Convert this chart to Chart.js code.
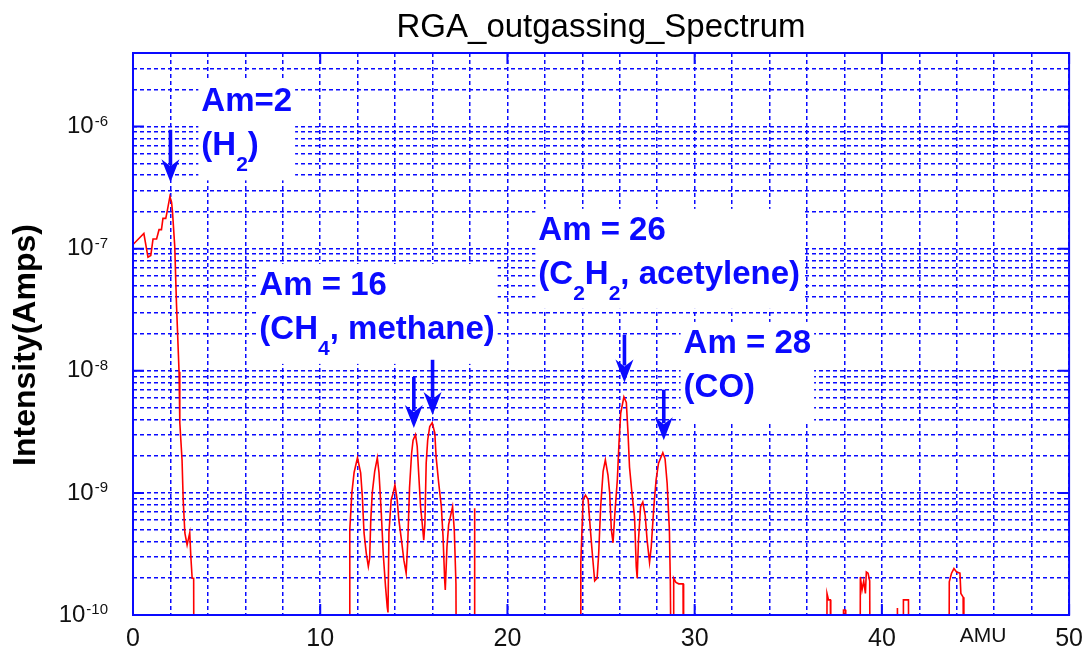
<!DOCTYPE html>
<html>
<head>
<meta charset="utf-8">
<script src="https://cdn.jsdelivr.net/npm/chart.js@4/dist/chart.umd.min.js"></script>
<style>
  html, body { margin: 0; padding: 0; background: #ffffff; }
  #wrap { width: 1092px; height: 654px; position: relative; }
</style>
</head>
<body>
<div id="wrap"><canvas id="rga" width="1092" height="654"></canvas></div>
<script>
// Readings below the bottom of the axis (under 1e-10 A) are stored at this floor.
const FLOOR = 1e-11;

// Mass region 0-3.3 AMU (hydrogen)
const amuH2  = [0.00, 0.58, 0.80, 0.95, 1.07, 1.26, 1.39, 1.52, 1.60, 1.75, 1.82, 1.97, 2.06, 2.11, 2.23, 2.32, 2.46, 2.50, 2.62, 2.68, 2.77, 2.89, 3.03, 3.09, 3.16, 3.24, 3.26];
const ampsH2 = [1.08e-7, 1.33e-7, 8.5e-8, 8.8e-8, 1.2e-7, 1.2e-7, 1.43e-7, 1.43e-7, 1.77e-7, 1.77e-7, 2.0e-7, 2.67e-7, 2.4e-7, 2.0e-7, 1.04e-7, 3.6e-8, 9.8e-9, 3.75e-9, 1.86e-9, 8.8e-10, 4.7e-10, 3.75e-10, 4.7e-10, 3.0e-10, 2.0e-10, 2.0e-10, FLOOR];

// Mass region 11.5-18.3 AMU (CHx group)
const amuCH  = [11.55, 11.58, 11.69, 11.81, 11.99, 12.16, 12.25, 12.34, 12.46, 12.57, 12.64, 12.70, 12.78, 12.91, 13.05, 13.14, 13.26, 13.37, 13.49, 13.58, 13.62, 13.67, 13.79, 13.90, 13.99, 14.11, 14.20, 14.34, 14.47, 14.59, 14.68, 14.77, 14.88, 14.96, 15.09, 15.18, 15.27, 15.36, 15.44, 15.53, 15.59, 15.66, 15.74, 15.85, 15.98, 16.12, 16.19, 16.33, 16.47, 16.56, 16.65, 16.68, 16.77, 16.86, 17.00, 17.07, 17.16, 17.25, 17.28, 18.22, 18.24, 18.26];
const ampsCH = [FLOOR, 5.0e-10, 1.0e-9, 1.47e-9, 1.94e-9, 1.46e-9, 9.3e-10, 4.7e-10, 3.2e-10, 2.5e-10, 2.9e-10, 6.0e-10, 1.0e-9, 1.5e-9, 1.94e-9, 1.46e-9, 6.9e-10, 3.1e-10, 1.7e-10, 1.16e-10, 1.05e-10, 4.7e-10, 8.8e-10, 1.0e-9, 1.16e-9, 8.8e-10, 6.0e-10, 4.1e-10, 2.8e-10, 2.2e-10, 4.1e-10, 1.1e-9, 2.1e-9, 2.7e-9, 3.0e-9, 2.4e-9, 1.35e-9, 7.7e-10, 5.8e-10, 4.1e-10, 5.5e-10, 1.75e-9, 2.7e-9, 3.5e-9, 3.75e-9, 3.1e-9, 1.97e-9, 1.2e-9, 7.7e-10, 4.4e-10, 1.9e-10, 1.6e-10, 3.6e-10, 5.5e-10, 6.9e-10, 7.7e-10, 5.0e-10, 1.8e-10, FLOOR, FLOOR, 7.5e-10, FLOOR];

// Mass region 23.9-29.4 AMU (C2Hx, CO)
const amuC2  = [23.90, 23.92, 24.04, 24.17, 24.31, 24.43, 24.54, 24.66, 24.79, 24.87, 24.98, 25.11, 25.23, 25.37, 25.46, 25.55, 25.64, 25.73, 25.87, 25.96, 26.05, 26.22, 26.35, 26.44, 26.52, 26.65, 26.79, 26.88, 26.93, 27.00, 27.11, 27.23, 27.36, 27.46, 27.59, 27.68, 27.82, 27.94, 28.07, 28.30, 28.42, 28.53, 28.65, 28.70, 28.77, 28.85, 28.88, 29.00, 29.15, 29.38, 29.41];
const ampsC2 = [FLOOR, 2.7e-10, 8.8e-10, 9.6e-10, 8.8e-10, 5.0e-10, 3.1e-10, 1.9e-10, 2.0e-10, 3.1e-10, 7.7e-10, 1.5e-9, 1.86e-9, 1.4e-9, 1.0e-9, 5.0e-10, 3.9e-10, 6.5e-10, 1.28e-9, 2.6e-9, 4.5e-9, 6.1e-9, 5.5e-9, 3.1e-9, 1.63e-9, 1.0e-9, 6.3e-10, 2.5e-10, 2.0e-10, 4.1e-10, 7.7e-10, 8.4e-10, 6.5e-10, 4.1e-10, 2.7e-10, 3.6e-10, 7.7e-10, 1.28e-9, 1.75e-9, 2.13e-9, 1.9e-9, 1.2e-9, 5.0e-10, 1.9e-10, FLOOR, FLOOR, 2.0e-10, 1.85e-10, 1.8e-10, 1.8e-10, FLOOR];

// Mass region 37-44.4 AMU
const amuHeavy  = [37.05, 37.07, 37.15, 37.25, 37.27, 37.93, 37.95, 38.05, 38.07, 38.83, 38.85, 38.94, 39.03, 39.12, 39.17, 39.26, 39.35, 39.38, 40.81, 40.83, 40.87, 41.13, 41.15, 41.42, 41.45, 43.58, 43.60, 43.72, 43.85, 43.99, 44.17, 44.22, 44.34, 44.38];
const ampsHeavy = [FLOOR, 1.5e-10, 1.33e-10, 1.33e-10, FLOOR, FLOOR, 1.1e-10, 1.1e-10, FLOOR, FLOOR, 2.05e-10, 1.6e-10, 1.9e-10, 1.5e-10, 2.25e-10, 2.2e-10, 1.9e-10, FLOOR, FLOOR, 1.14e-10, FLOOR, FLOOR, 1.33e-10, 1.33e-10, FLOOR, FLOOR, 1.87e-10, 2.2e-10, 2.4e-10, 2.25e-10, 2.2e-10, 1.5e-10, 1.4e-10, FLOOR];

// Axis ticks
const xMajorTicks = [0, 10, 20, 30, 40, 50];
const yDecades = [-10, -9, -8, -7, -6];
const yMax = 4e-6;

// Peak labels ("_x" marks a subscript character), anchored at the text's left edge / first baseline
const noteText  = [['Am=2', '(H_2)'], ['Am = 16', '(CH_4, methane)'], ['Am = 26', '(C_2H_2, acetylene)'], ['Am = 28', '(CO)']];
const noteAmu   = [3.65, 6.75, 21.65, 29.41];
const noteAmps  = [1.33e-6, 4.18e-8, 1.18e-7, 1.40e-8];

// Peak arrows: mass, shaft top, arrow tip
const arrowAmu  = [2.0, 15.0, 16.0, 26.25, 28.35];
const arrowTop  = [9.4e-7, 8.9e-9, 1.23e-8, 1.97e-8, 7.0e-9];
const arrowTip  = [3.5e-7, 3.4e-9, 4.35e-9, 8.0e-9, 2.7e-9];

// ---------------------------------------------------------------------------
const BLUE = '#0a0aff';
const FONT = "'Liberation Sans', Arial, Helvetica, sans-serif";

const points = [];
[[amuH2, ampsH2], [amuCH, ampsCH], [amuC2, ampsC2], [amuHeavy, ampsHeavy]].forEach(([xs, ys]) => {
  xs.forEach((x, i) => points.push({ x: x, y: ys[i] }));
});

const yTickValues = [];
yDecades.forEach(e => {
  for (let m = 1; m <= 9; m++) {
    const v = m * Math.pow(10, e);
    if (v <= yMax * 1.0001) yTickValues.push(v);
  }
});

function decadeExponent(v) {
  const e = Math.log10(v);
  return Math.abs(e - Math.round(e)) < 1e-6 ? Math.round(e) : null;
}

function splitRuns(str) {
  const out = [];
  let buf = '';
  for (let i = 0; i < str.length; i++) {
    if (str[i] === '_' && i + 1 < str.length) {
      if (buf) { out.push([buf, false]); buf = ''; }
      out.push([str[i + 1], true]);
      i++;
    } else buf += str[i];
  }
  if (buf) out.push([buf, false]);
  return out;
}

// Peak labels on white boxes, plus the arrows pointing at the peaks
const peakNotes = {
  id: 'peakNotes',
  afterDatasetsDraw(chart) {
    const ctx = chart.ctx, xs = chart.scales.x, ys = chart.scales.y;
    const mainFont = 'bold 33px ' + FONT, subFont = 'bold 21px ' + FONT;
    const lineGap = 44, subDrop = 16;
    ctx.save();
    noteText.forEach((lines, k) => {
      const x0 = xs.getPixelForValue(noteAmu[k]);
      const b0 = ys.getPixelForValue(noteAmps[k]);
      const runs = lines.map(splitRuns);
      const widths = runs.map(rs => rs.reduce((w, [t, sub]) => { ctx.font = sub ? subFont : mainFont; return w + ctx.measureText(t).width; }, 0));
      const maxW = Math.max.apply(null, widths);
      const bLast = b0 + lineGap * (lines.length - 1);
      ctx.fillStyle = '#ffffff';
      ctx.fillRect(x0 - 3, b0 - 31, maxW + 6, bLast + 25 - (b0 - 31));
      ctx.fillStyle = BLUE;
      ctx.textBaseline = 'alphabetic';
      ctx.textAlign = 'left';
      runs.forEach((rs, li) => {
        let cx = x0;
        const base = b0 + li * lineGap;
        rs.forEach(([t, sub]) => {
          ctx.font = sub ? subFont : mainFont;
          ctx.fillText(t, cx, base + (sub ? subDrop : 0));
          cx += ctx.measureText(t).width;
        });
      });
    });
    // arrows
    ctx.strokeStyle = BLUE;
    ctx.fillStyle = BLUE;
    arrowAmu.forEach((a, k) => {
      const x = xs.getPixelForValue(a);
      const yTop = ys.getPixelForValue(arrowTop[k]);
      const yTip = ys.getPixelForValue(arrowTip[k]);
      const headLen = 23, headHalf = 9;
      ctx.lineWidth = 3.6;
      ctx.beginPath();
      ctx.moveTo(x, yTop);
      ctx.lineTo(x, yTip - headLen + 6);
      ctx.stroke();
      ctx.beginPath();
      ctx.moveTo(x, yTip);
      ctx.lineTo(x - headHalf, yTip - headLen);
      ctx.lineTo(x, yTip - headLen + 7);
      ctx.lineTo(x + headHalf, yTip - headLen);
      ctx.closePath();
      ctx.fill();
    });
    ctx.restore();
  }
};

// Solid axes box with inward major ticks, decade labels with raised exponents,
// the y-axis title and the AMU unit text
const axesBox = {
  id: 'axesBox',
  afterDraw(chart) {
    const ctx = chart.ctx, a = chart.chartArea, xs = chart.scales.x, ys = chart.scales.y;
    const tick = 11;
    ctx.save();
    ctx.strokeStyle = BLUE;
    ctx.lineWidth = 2;
    ctx.strokeRect(a.left, a.top, a.right - a.left, a.bottom - a.top);
    ctx.beginPath();
    xMajorTicks.forEach(v => {
      const x = xs.getPixelForValue(v);
      ctx.moveTo(x, a.bottom); ctx.lineTo(x, a.bottom - tick);
      ctx.moveTo(x, a.top);    ctx.lineTo(x, a.top + tick);
    });
    yDecades.forEach(e => {
      const y = ys.getPixelForValue(Math.pow(10, e));
      ctx.moveTo(a.left, y);  ctx.lineTo(a.left + tick, y);
      ctx.moveTo(a.right, y); ctx.lineTo(a.right - tick, y);
    });
    ctx.stroke();

    // decade tick labels: "10" with a raised exponent, right edge 25px left of the axis
    ctx.fillStyle = '#111111';
    ys.ticks.forEach(t => {
      const e = decadeExponent(t.value);
      if (e === null) return;
      const y = ys.getPixelForValue(t.value);
      const right = a.left - 25;
      ctx.font = '15px ' + FONT;
      const expStr = String(e);
      const expW = ctx.measureText(expStr).width;
      ctx.textAlign = 'left';
      ctx.textBaseline = 'alphabetic';
      ctx.fillText(expStr, right - expW, y - 1);
      ctx.font = '24px ' + FONT;
      ctx.textAlign = 'right';
      ctx.textBaseline = 'middle';
      ctx.fillText('10', right - expW - 1, y);
    });

    // y-axis title
    ctx.save();
    ctx.translate(26, 345);
    ctx.rotate(-Math.PI / 2);
    ctx.fillStyle = '#000000';
    ctx.font = 'bold 32px ' + FONT;
    ctx.textAlign = 'center';
    ctx.textBaseline = 'middle';
    ctx.fillText('Intensity(Amps)', 0, 0);
    ctx.restore();

    ctx.fillStyle = '#111111';
    ctx.font = '21px ' + FONT;
    ctx.textAlign = 'center';
    ctx.textBaseline = 'middle';
    ctx.fillText('AMU', xs.getPixelForValue(45.4), a.bottom + 21);
    ctx.restore();
  }
};

new Chart(document.getElementById('rga'), {
  type: 'line',
  data: {
    datasets: [{
      data: points,
      borderColor: '#ff0000',
      borderWidth: 1.6,
      pointRadius: 0,
      tension: 0,
      fill: false
    }]
  },
  options: {
    responsive: false,
    animation: false,
    events: [],
    layout: { padding: { left: 0, right: 19, top: 0, bottom: 0 } },
    plugins: {
      legend: { display: false },
      tooltip: { enabled: false },
      title: {
        display: true,
        text: 'RGA_outgassing_Spectrum',
        fullSize: false,
        color: '#000000',
        font: { family: FONT, size: 33, weight: 'normal' },
        padding: { top: 8, bottom: 5.4 }
      }
    },
    scales: {
      x: {
        type: 'linear',
        min: 0,
        max: 50,
        ticks: {
          stepSize: 2,
          autoSkip: false,
          maxRotation: 0,
          padding: 9,
          color: '#111111',
          font: { family: FONT, size: 25 },
          callback: v => (v % 10 === 0 ? String(v) : '')
        },
        grid: { color: BLUE, lineWidth: 1.5, drawTicks: false },
        border: { display: false, dash: [4, 3] },
        afterFit: s => { s.height = 39; }
      },
      y: {
        type: 'logarithmic',
        min: 1e-10,
        max: yMax,
        afterBuildTicks: s => { s.ticks = yTickValues.map(v => ({ value: v })); },
        ticks: { display: false },
        grid: { color: BLUE, lineWidth: 1.5, drawTicks: false },
        border: { display: false, dash: [4, 3] },
        afterFit: s => { s.width = 133; }
      }
    }
  },
  plugins: [peakNotes, axesBox]
});
</script>
</body>
</html>
